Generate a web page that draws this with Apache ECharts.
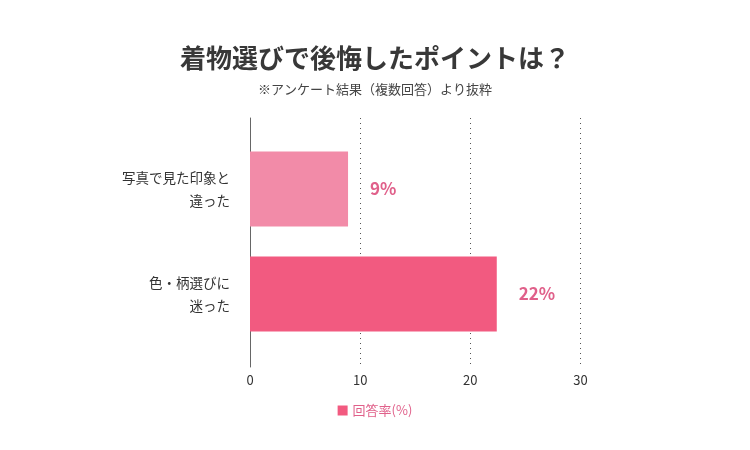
<!DOCTYPE html>
<html>
<head>
<meta charset="utf-8">
<script src="https://cdn.jsdelivr.net/npm/echarts@6/dist/echarts.min.js"></script>
<style>
  html, body { margin: 0; padding: 0; background: #fff; }
  #chart { width: 750px; height: 450px; }
</style>
</head>
<body>
<div id="chart"></div>
<script>
const categories = ['写真で見た印象と\n違った', '色・柄選びに\n迷った'];
const answerRate = [8.9, 22.4];
const barColors = ['#f28ba8', '#f25a80'];
const xTicks = [0, 10, 20, 30];
const seriesName = '回答率(%)';

const fontFamily = '"Noto Sans CJK JP", "Noto Sans", sans-serif';
const chart = echarts.init(document.getElementById('chart'));

const barData = answerRate.map((v, i) => ({
  value: v,
  itemStyle: { color: barColors[i] }
}));

chart.setOption({
  animation: false,
  textStyle: { fontFamily: fontFamily },
  title: [{
    text: '着物選びで後悔したポイントは？',
    left: 'center',
    top: 40,
    textStyle: { fontSize: 26, fontWeight: 'bold', color: '#383838', fontFamily: fontFamily }
  }, {
    text: '※アンケート結果（複数回答）より抜粋',
    left: 'center',
    top: 78,
    textStyle: { fontSize: 13, fontWeight: 'normal', color: '#444', fontFamily: fontFamily }
  }],
  legend: {
    data: [seriesName],
    top: 399,
    left: 'center',
    icon: 'rect',
    itemWidth: 10,
    itemHeight: 10,
    itemGap: 6,
    textStyle: { fontSize: 13, color: '#e0608a' }
  },
  grid: [
    { left: 250, right: 169.5, top: 118, bottom: 83 },
    { left: 250, right: 169.5, top: 136.5, bottom: 103.5 }
  ],
  xAxis: [{
    gridIndex: 0,
    type: 'value',
    min: xTicks[0],
    max: xTicks[xTicks.length - 1],
    interval: 10,
    axisLine: { show: false },
    axisTick: { show: false },
    axisLabel: { color: '#333', fontSize: 13, margin: 7 },
    splitLine: {
      show: true,
      lineStyle: { type: [1, 4], color: '#555', width: 1 }
    }
  }, {
    gridIndex: 1,
    type: 'value',
    min: xTicks[0],
    max: xTicks[xTicks.length - 1],
    show: false
  }],
  yAxis: [{
    gridIndex: 0,
    type: 'value',
    axisLine: { show: true, lineStyle: { color: '#666', width: 1 } },
    axisTick: { show: false },
    axisLabel: { show: false },
    splitLine: { show: false }
  }, {
    gridIndex: 1,
    type: 'category',
    inverse: true,
    data: categories,
    axisLine: { show: false },
    axisTick: { show: false },
    axisLabel: {
      color: '#333',
      fontSize: 13.5,
      lineHeight: 23,
      align: 'right',
      margin: 20
    }
  }],
  series: [{
    name: seriesName,
    type: 'bar',
    xAxisIndex: 1,
    yAxisIndex: 1,
    barWidth: 75,
    itemStyle: { color: barColors[1] },
    data: barData,
    label: {
      show: true,
      position: 'right',
      distance: 22,
      formatter: p => Math.round(p.value) + '%',
      color: '#e0608a',
      fontSize: 17,
      fontWeight: 'bold'
    }
  }]
});
</script>
</body>
</html>
